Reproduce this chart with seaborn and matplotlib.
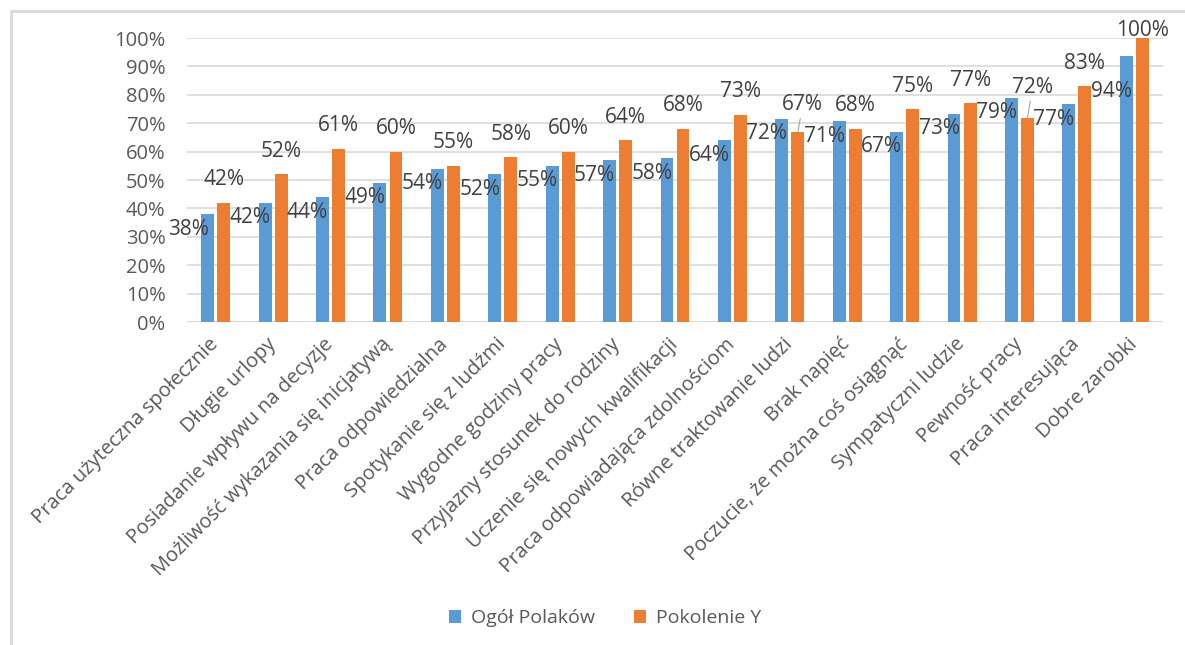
import matplotlib
matplotlib.use("Agg")
import matplotlib.pyplot as plt
from matplotlib.lines import Line2D
from matplotlib.patches import Patch
import seaborn as sns
import pandas as pd

# ---------------- data ----------------
categories = [
    "Praca użyteczna społecznie", "Długie urlopy", "Posiadanie wpływu na decyzje",
    "Możliwość wykazania się inicjatywą", "Praca odpowiedzialna", "Spotykanie się z ludźmi",
    "Wygodne godziny pracy", "Przyjazny stosunek do rodziny", "Uczenie się nowych kwalifikacji",
    "Praca odpowiadająca zdolnościom", "Równe traktowanie ludzi", "Brak napięć",
    "Poczucie, że można coś osiągnąć", "Sympatyczni ludzie", "Pewność pracy",
    "Praca interesująca", "Dobre zarobki",
]
series_names = ["Ogół Polaków", "Pokolenie Y"]
ogol_polakow = [38, 42, 44, 49, 54, 52, 55, 57, 57.6, 64, 71.6, 70.6, 67, 73.4, 79, 76.6, 93.6]
pokolenie_y = [42, 52, 61, 60, 55, 58, 60, 64, 68, 73, 67, 68, 75, 77, 72, 83, 100]
y_ticks = [0, 10, 20, 30, 40, 50, 60, 70, 80, 90, 100]

# ---------------- style ----------------
BLUE = "#5B9BD5"
ORANGE = "#ED7D31"
GRID = "#D9D9D9"
TICK_COL = "#595959"
LABEL_COL = "#404040"
FONT = ["Open Sans", "DejaVu Sans"]
FS_TICK = 14.5
FS_XLAB = 14.5
FS_DATA = 15
FS_LEG = 14

# label offsets in pixels (style only)
blue_off_default = (-15, -15)
blue_off_override = {0: (-19, -15), 16: (-15, -35)}
orange_off_default = (0, 23)
orange_off_override = {10: (5, 27), 14: (5, 30), 16: (0, 8)}
leader_idx = {10, 14}

sns.set_theme(style="white")
plt.rcParams["font.family"] = FONT

df = pd.DataFrame({
    "cat": categories * 2,
    "val": ogol_polakow + pokolenie_y,
    "series": [series_names[0]] * len(categories) + [series_names[1]] * len(categories),
})

W, H = 1185, 645
fig = plt.figure(figsize=(W / 100, H / 100), dpi=100)
fig.patch.set_facecolor("white")
ax = fig.add_axes([187 / W, 1 - 322 / H, (1163 - 187) / W, (322 - 38) / H])

sns.barplot(data=df, x="cat", y="val", hue="series", palette=[BLUE, ORANGE],
            width=0.56, gap=0.2, saturation=1, ax=ax, legend=False,
            edgecolor="none", linewidth=0, errorbar=None)

ax.set_ylim(0, 100)
ax.set_xlim(-0.5, len(categories) - 0.5)
ax.set_yticks(y_ticks)
ax.set_yticklabels([f"{t}%" for t in y_ticks])
ax.yaxis.grid(True, color=GRID, linewidth=1.2)
ax.set_axisbelow(True)
for s in ax.spines.values():
    s.set_visible(False)
ax.axhline(0, color=GRID, linewidth=1.2, zorder=0.5)
ax.set_xlabel("")
ax.set_ylabel("")
ax.tick_params(axis="y", length=0, pad=15.5, labelsize=FS_TICK, labelcolor=TICK_COL)
ax.tick_params(axis="x", length=0, pad=14, labelsize=FS_XLAB, labelcolor=TICK_COL)
for lab in ax.get_xticklabels():
    lab.set_rotation(45)
    lab.set_ha("right")
    lab.set_va("center")
    lab.set_rotation_mode("anchor")

# data labels
for i, bar in enumerate(ax.containers[0]):
    x = bar.get_x() + bar.get_width() / 2
    h = bar.get_height()
    dx, dy = blue_off_override.get(i, blue_off_default)
    ax.annotate(f"{round(ogol_polakow[i])}%", xy=(x, h), xytext=(dx, dy),
                textcoords="offset pixels", ha="center", va="center",
                fontsize=FS_DATA, color=LABEL_COL, annotation_clip=False)
for i, bar in enumerate(ax.containers[1]):
    x = bar.get_x() + bar.get_width() / 2
    h = bar.get_height()
    dx, dy = orange_off_override.get(i, orange_off_default)
    kw = {}
    if i in leader_idx:
        kw["arrowprops"] = dict(arrowstyle="-", color="#A6A6A6", lw=0.8,
                                shrinkA=0, shrinkB=0)
    ax.annotate(f"{round(pokolenie_y[i])}%", xy=(x, h), xytext=(dx, dy),
                textcoords="offset pixels", ha="center", va="center",
                fontsize=FS_DATA, color=LABEL_COL, annotation_clip=False, **kw)

# legend
handles = [Patch(facecolor=BLUE, edgecolor="none"), Patch(facecolor=ORANGE, edgecolor="none")]
fig.legend(handles, series_names, loc="center", bbox_to_anchor=(605 / W, 1 - 618 / H),
           ncol=2, frameon=False, fontsize=FS_LEG, labelcolor=TICK_COL,
           handlelength=0.65, handleheight=0.65, handletextpad=0.5, columnspacing=2.0)

# outer frame
fig.add_artist(Line2D([10.5 / W, 10.5 / W], [0, 1 - 10.5 / H], color=GRID, lw=2,
                      transform=fig.transFigure))
fig.add_artist(Line2D([10.5 / W, 1], [1 - 10.5 / H, 1 - 10.5 / H], color=GRID, lw=2,
                      transform=fig.transFigure))

fig.savefig("out.png", dpi=100, facecolor="white")
